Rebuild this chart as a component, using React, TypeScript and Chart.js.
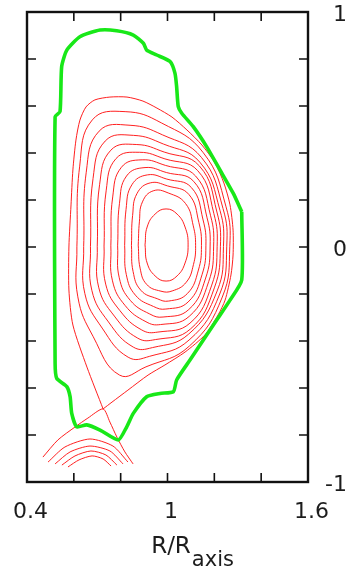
import { useEffect, useRef } from 'react';
import { Chart, registerables } from 'chart.js';

Chart.register(...registerables);

// ---- axis definitions ----
const xMin = 0.4;
const xMax = 1.6;
const xStep = 0.2;
const xLabelValues = [0.4, 1, 1.6];
const xLabelTexts = ['0.4', '1', '1.6'];
const yMin = -1;
const yMax = 1;
const yStep = 0.2;
const yLabelValues = [-1, 0, 1];
const yLabelTexts = ['-1', '0', '1'];
const axisTitleMain = 'R/R';
const axisTitleSub = 'axis';

// ---- first wall / limiter boundary (green) [R/Raxis, Z] ----
const wallBoundary = [
  [1.317, 0.150], [1.317, -0.140], [1.267, -0.226], [1.210, -0.311], [1.153, -0.396],
  [1.096, -0.481], [1.039, -0.566], [1.025, -0.616], [0.968, -0.623], [0.911, -0.637],
  [0.854, -0.708], [0.826, -0.765], [0.790, -0.821], [0.712, -0.779], [0.655, -0.757],
  [0.612, -0.765], [0.591, -0.708], [0.584, -0.637], [0.570, -0.594], [0.527, -0.559],
  [0.520, -0.495], [0.520, 0.554], [0.541, 0.576], [0.548, 0.767], [0.570, 0.838],
  [0.626, 0.895], [0.712, 0.923], [0.783, 0.920], [0.854, 0.902], [0.897, 0.867],
  [0.911, 0.838], [0.954, 0.817], [1.011, 0.789], [1.032, 0.739], [1.039, 0.682],
  [1.046, 0.597], [1.061, 0.569], [1.110, 0.512], [1.167, 0.427], [1.224, 0.328],
  [1.281, 0.228], [1.317, 0.150],
];

// ---- last closed flux surface (with X-point) ----
const lcfs = [
  [0.725, -0.689], [0.656, -0.511], [0.596, -0.332], [0.579, -0.183], [0.579, 0.000],
  [0.588, 0.179], [0.596, 0.328], [0.609, 0.455], [0.626, 0.540], [0.652, 0.596],
  [0.690, 0.626], [0.754, 0.638], [0.827, 0.638], [0.895, 0.621], [0.955, 0.591],
  [1.019, 0.553], [1.083, 0.498], [1.147, 0.434], [1.203, 0.357], [1.241, 0.272],
  [1.267, 0.179], [1.280, 0.072], [1.280, -0.034], [1.271, -0.119], [1.246, -0.226],
  [1.216, -0.289], [1.160, -0.374], [1.075, -0.447], [0.989, -0.502], [0.917, -0.545],
  [0.831, -0.609], [0.763, -0.660], [0.725, -0.689],
];

// ---- nested closed flux surfaces (outer to inner) ----
const surface1 = [
  [0.613, 0.001], [0.625, 0.344], [0.679, 0.541], [0.819, 0.576], [0.974, 0.528],
  [1.153, 0.401], [1.250, 0.171], [1.266, 0.001], [1.234, -0.213], [1.094, -0.421],
  [0.908, -0.510], [0.795, -0.545], [0.683, -0.382], [0.617, -0.212], [0.613, 0.001],
];
const surface2 = [
  [0.642, 0.002], [0.653, 0.318], [0.708, 0.493], [0.840, 0.518], [0.979, 0.477],
  [1.145, 0.381], [1.237, 0.164], [1.253, 0.001], [1.223, -0.200], [1.092, -0.396],
  [0.924, -0.465], [0.832, -0.469], [0.721, -0.345], [0.647, -0.198], [0.642, 0.002],
];
const surface3 = [
  [0.671, 0.002], [0.682, 0.291], [0.734, 0.451], [0.855, 0.475], [0.983, 0.438],
  [1.138, 0.361], [1.224, 0.156], [1.239, 0.002], [1.212, -0.187], [1.090, -0.371],
  [0.936, -0.428], [0.854, -0.426], [0.748, -0.319], [0.677, -0.185], [0.671, 0.002],
];
const surface4 = [
  [0.700, 0.003], [0.710, 0.265], [0.758, 0.412], [0.869, 0.436], [0.986, 0.404],
  [1.136, 0.345], [1.211, 0.149], [1.226, 0.002], [1.200, -0.174], [1.098, -0.349],
  [0.948, -0.394], [0.873, -0.388], [0.773, -0.294], [0.706, -0.171], [0.700, 0.003],
];
const surface5 = [
  [0.729, 0.004], [0.738, 0.239], [0.780, 0.376], [0.881, 0.403], [0.989, 0.375],
  [1.129, 0.325], [1.198, 0.142], [1.212, 0.003], [1.189, -0.162], [1.096, -0.324],
  [0.959, -0.362], [0.890, -0.353], [0.797, -0.271], [0.736, -0.158], [0.729, 0.004],
];
const surface6 = [
  [0.758, 0.005], [0.766, 0.213], [0.803, 0.339], [0.892, 0.371], [0.992, 0.347],
  [1.120, 0.302], [1.184, 0.133], [1.197, 0.004], [1.176, -0.147], [1.093, -0.295],
  [0.970, -0.330], [0.908, -0.318], [0.819, -0.249], [0.765, -0.144], [0.758, 0.005],
];
const surface7 = [
  [0.787, 0.005], [0.795, 0.186], [0.825, 0.302], [0.904, 0.338], [0.995, 0.317],
  [1.112, 0.279], [1.169, 0.124], [1.182, 0.004], [1.163, -0.132], [1.091, -0.266],
  [0.981, -0.298], [0.924, -0.285], [0.841, -0.227], [0.794, -0.131], [0.787, 0.005],
];
const surface8 = [
  [0.817, 0.006], [0.823, 0.160], [0.848, 0.265], [0.915, 0.307], [0.997, 0.289],
  [1.102, 0.253], [1.152, 0.115], [1.164, 0.005], [1.148, -0.116], [1.088, -0.234],
  [0.993, -0.264], [0.940, -0.253], [0.863, -0.205], [0.824, -0.117], [0.817, 0.006],
];
const surface9 = [
  [0.846, 0.007], [0.851, 0.134], [0.870, 0.228], [0.927, 0.273], [1.000, 0.260],
  [1.091, 0.224], [1.134, 0.104], [1.145, 0.006], [1.132, -0.098], [1.085, -0.198],
  [1.005, -0.230], [0.956, -0.220], [0.886, -0.184], [0.853, -0.104], [0.846, 0.007],
];
const surface10 = [
  [0.875, 0.008], [0.880, 0.107], [0.893, 0.192], [0.939, 0.239], [1.003, 0.230],
  [1.077, 0.185], [1.110, 0.090], [1.120, 0.007], [1.111, -0.074], [1.080, -0.150],
  [1.020, -0.187], [0.972, -0.188], [0.911, -0.159], [0.883, -0.090], [0.875, 0.008],
];
const surfaceCore = [
  [0.904, 0.009], [0.913, 0.085], [0.947, 0.140], [0.994, 0.162], [1.041, 0.140],
  [1.075, 0.085], [1.088, 0.009], [1.075, -0.068], [1.041, -0.123], [0.994, -0.145],
  [0.947, -0.123], [0.913, -0.068], [0.904, 0.009],
];

// ---- divertor legs and private-flux arcs below the X-point ----
const separatrixLegs = [
  [0.468, -0.894], [0.532, -0.821], [0.605, -0.766], [0.660, -0.728], [0.725, -0.689],
  [0.754, -0.745], [0.784, -0.809], [0.818, -0.872], [0.853, -0.923],
];
const privateArc1 = [[0.490, -0.915], [0.562, -0.851], [0.669, -0.817], [0.767, -0.847], [0.831, -0.915]];
const privateArc2 = [[0.520, -0.923], [0.584, -0.872], [0.669, -0.847], [0.754, -0.868], [0.810, -0.923]];
const privateArc3 = [[0.549, -0.928], [0.605, -0.889], [0.673, -0.868], [0.737, -0.885], [0.784, -0.928]];
const privateArc4 = [[0.575, -0.936], [0.622, -0.906], [0.678, -0.889], [0.725, -0.902], [0.759, -0.932]];

const closedSurfaces = [
  lcfs, surface1, surface2, surface3, surface4, surface5, surface6,
  surface7, surface8, surface9, surface10, surfaceCore,
];
const openLines = [separatrixLegs, privateArc1, privateArc2, privateArc3, privateArc4];

const FONT = '"DejaVu Sans", "Liberation Sans", sans-serif';
const TEXT = '#1c1c1c';
const RED = 'rgba(255, 20, 20, 0.95)';
const GREEN = 'rgb(24, 232, 24)';

const toXY = (pts: number[][]) => pts.map(([x, y]) => ({ x, y }));

const zeroPadding = (s: any) => {
  s.paddingLeft = 0;
  s.paddingRight = 0;
  s.paddingTop = 0;
  s.paddingBottom = 0;
};

const frameAndTitle = {
  id: 'frameAndTitle',
  afterDatasetsDraw(chart: any) {
    const { ctx, chartArea: a, scales } = chart;
    const xs = scales.x;
    const ys = scales.y;
    const tl = 9;
    ctx.save();
    ctx.strokeStyle = '#111';
    ctx.lineWidth = 1.6;
    ctx.beginPath();
    xs.ticks.forEach((t: any) => {
      const px = xs.getPixelForValue(t.value);
      ctx.moveTo(px, a.bottom);
      ctx.lineTo(px, a.bottom - tl);
      ctx.moveTo(px, a.top);
      ctx.lineTo(px, a.top + tl);
    });
    ys.ticks.forEach((t: any) => {
      const py = ys.getPixelForValue(t.value);
      ctx.moveTo(a.left, py);
      ctx.lineTo(a.left + tl, py);
      ctx.moveTo(a.right, py);
      ctx.lineTo(a.right - tl, py);
    });
    ctx.stroke();
    ctx.lineWidth = 2.4;
    ctx.strokeRect(a.left, a.top, a.right - a.left, a.bottom - a.top);

    // axis title with subscript
    ctx.fillStyle = TEXT;
    ctx.textBaseline = 'alphabetic';
    ctx.textAlign = 'left';
    ctx.font = `23px ${FONT}`;
    const wMain = ctx.measureText(axisTitleMain).width;
    const cx = (a.left + a.right) / 2 + 3.5;
    const x0 = cx - wMain / 2;
    ctx.fillText(axisTitleMain, x0, 553);
    ctx.font = `21px ${FONT}`;
    ctx.fillText(axisTitleSub, x0 + wMain + 1, 566);
    ctx.restore();
  },
};

export default function App() {
  const ref = useRef<HTMLCanvasElement>(null);
  useEffect(() => {
    if (!ref.current) return;
    const datasets: any[] = [];
    datasets.push({
      data: toXY(wallBoundary),
      showLine: true,
      borderColor: GREEN,
      borderWidth: 3.6,
      pointRadius: 0,
      tension: 0.2,
      fill: false,
    });
    closedSurfaces.forEach((s, i) => {
      datasets.push({
        data: toXY(s),
        showLine: true,
        borderColor: RED,
        borderWidth: 1,
        pointRadius: 0,
        tension: i === 0 ? 0.25 : 0.45,
        fill: false,
      });
    });
    openLines.forEach((s) => {
      datasets.push({
        data: toXY(s),
        showLine: true,
        borderColor: RED,
        borderWidth: 1,
        pointRadius: 0,
        tension: 0.25,
        fill: false,
      });
    });

    const chart = new Chart(ref.current, {
      type: 'scatter',
      data: { datasets },
      options: {
        animation: false,
        responsive: false,
        maintainAspectRatio: false,
        devicePixelRatio: 1,
        layout: { padding: { left: 27, top: 12, right: 0, bottom: 0 } },
        plugins: { legend: { display: false }, tooltip: { enabled: false }, title: { display: false } },
        scales: {
          x: {
            type: 'linear',
            position: 'bottom',
            min: xMin,
            max: xMax,
            grid: { display: false, drawTicks: false, tickLength: 0 },
            border: { display: false },
            afterFit: (s: any) => { s.height = 94; zeroPadding(s); },
            ticks: {
              stepSize: xStep,
              autoSkip: false,
              maxRotation: 0,
              padding: 19,
              labelOffset: 3.5,
              color: TEXT,
              font: { family: FONT, size: 22, lineHeight: 1 },
              callback: (v: any) => {
                const i = xLabelValues.findIndex((t) => Math.abs(t - Number(v)) < 1e-6);
                return i >= 0 ? xLabelTexts[i] : '';
              },
            },
          },
          y: {
            type: 'linear',
            position: 'right',
            min: yMin,
            max: yMax,
            grid: { display: false, drawTicks: false, tickLength: 0 },
            border: { display: false },
            afterFit: (s: any) => { s.width = 39; zeroPadding(s); },
            ticks: {
              stepSize: yStep,
              autoSkip: false,
              padding: 13,
              crossAlign: 'far',
              labelOffset: 3.5,
              color: TEXT,
              font: { family: FONT, size: 22, lineHeight: 1 },
              callback: (v: any) => {
                const i = yLabelValues.findIndex((t) => Math.abs(t - Number(v)) < 1e-6);
                return i >= 0 ? yLabelTexts[i] : '';
              },
            },
          },
        },
      },
      plugins: [frameAndTitle],
    } as any);
    return () => chart.destroy();
  }, []);

  return (
    <div style={{ position: 'absolute', left: 0, top: 0, width: 347, height: 576, background: '#fff' }}>
      <canvas ref={ref} width={347} height={576} style={{ display: 'block', width: 347, height: 576 }} />
    </div>
  );
}
